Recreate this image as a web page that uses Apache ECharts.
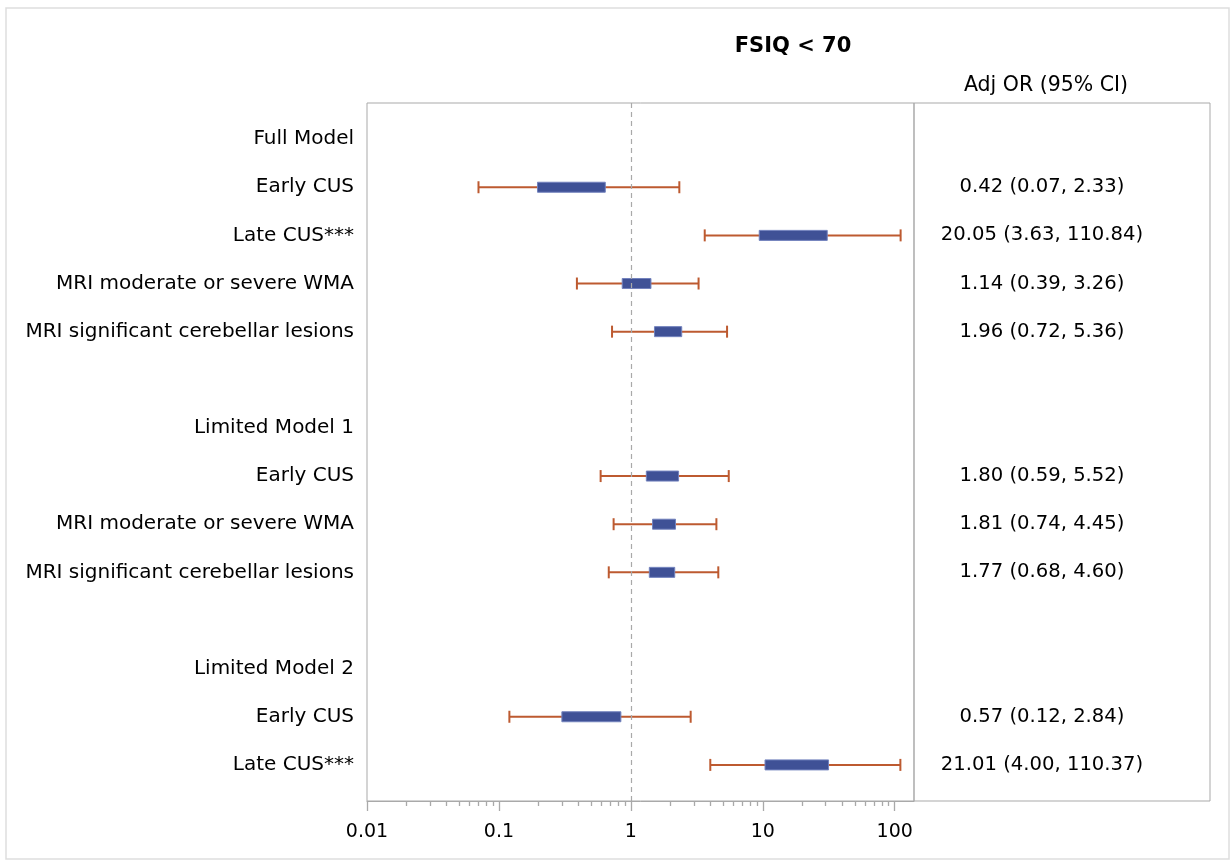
<!DOCTYPE html>
<html>
<head>
<meta charset="utf-8">
<title>FSIQ &lt; 70</title>
<script src="https://cdn.jsdelivr.net/npm/echarts@6/dist/echarts.min.js"></script>
<style>
  html, body { margin: 0; padding: 0; background: #fff; }
  #chart { width: 1232px; height: 861px; }
</style>
</head>
<body>
<div id="chart"></div>
<script>
// rows, top to bottom (blank rows are spacers)
var rowLabels = ['Full Model', 'Early CUS', 'Late CUS***', 'MRI moderate or severe WMA', 'MRI significant cerebellar lesions', '',
  'Limited Model 1', 'Early CUS', 'MRI moderate or severe WMA', 'MRI significant cerebellar lesions', '',
  'Limited Model 2', 'Early CUS', 'Late CUS***'];
var orText = ['', '0.42 (0.07, 2.33)', '20.05 (3.63, 110.84)', '1.14 (0.39, 3.26)', '1.96 (0.72, 5.36)', '',
  '', '1.80 (0.59, 5.52)', '1.81 (0.74, 4.45)', '1.77 (0.68, 4.60)', '',
  '', '0.57 (0.12, 2.84)', '21.01 (4.00, 110.37)'];
// 95% CI whiskers
var ciLow  = [null, 0.07, 3.63, 0.39, 0.72, null, null, 0.59, 0.74, 0.68, null, null, 0.12, 4.00];
var ciHigh = [null, 2.33, 110.84, 3.26, 5.36, null, null, 5.52, 4.45, 4.60, null, null, 2.84, 110.37];
// inner boxes
var boxLow  = [null, 0.196, 9.4, 0.86, 1.51, null, null, 1.31, 1.46, 1.38, null, null, 0.30, 10.4];
var boxHigh = [null, 0.64, 30.8, 1.42, 2.43, null, null, 2.30, 2.18, 2.15, null, null, 0.84, 31.5];

var xTicks = [0.01, 0.1, 1, 10, 100];
var xTickLabels = ['0.01', '0.1', '1', '10', '100'];

var minorTicks = [];
for (var d = 0; d < 4; d++) {
  for (var k = 2; k <= 9; k++) minorTicks.push(k * xTicks[d]);
}

var rowIdx = [], textIdx = [];
rowLabels.forEach(function (s, i) { if (s) rowIdx.push(i); });
orText.forEach(function (s, i) { if (s) textIdx.push(i); });

var plotData = [];
for (var i = 0; i < rowLabels.length; i++) {
  if (ciLow[i] != null) plotData.push([i, ciLow[i], boxLow[i], boxHigh[i], ciHigh[i]]);
}

var font = '"DejaVu Sans", "Noto Sans", sans-serif';
var frameColor = '#a9a9a9';
var whiskerColor = '#bd5a30';
var boxColor = '#3f5196';

var plotBox = { left: 367, right: 318, top: 103, bottom: 60 };

var chart = echarts.init(document.getElementById('chart'));

chart.setOption({
  backgroundColor: '#fff',
  textStyle: { fontFamily: font },
  animation: false,
  title: [
    { text: 'FSIQ < 70', left: 788, top: 31, textAlign: 'center',
      textStyle: { fontSize: 21, fontWeight: 'bold', color: '#000', fontFamily: font } },
    { text: 'Adj OR (95% CI)', left: 1041, top: 70, textAlign: 'center',
      textStyle: { fontSize: 20.5, fontWeight: 'normal', color: '#000', fontFamily: font } }
  ],
  graphic: [{
    type: 'rect', shape: { x: 6, y: 8, width: 1223, height: 851 },
    style: { fill: 'none', stroke: '#dedede', lineWidth: 1.5 }, silent: true, z: -10
  }],
  grid: [
    Object.assign({ show: true, borderColor: frameColor, borderWidth: 1, backgroundColor: 'transparent' }, plotBox),
    { left: 914, right: 22, top: 103, bottom: 60, show: true, borderColor: frameColor, borderWidth: 1, backgroundColor: 'transparent' },
    Object.assign({ show: false }, plotBox)
  ],
  xAxis: [
    { type: 'log', logBase: 10, gridIndex: 0, min: 0.01, max: 140, position: 'bottom',
      axisLine: { show: true, onZero: false, lineStyle: { color: frameColor } },
      axisTick: { show: true, length: 10, customValues: xTicks, lineStyle: { color: frameColor, width: 1.3 } },
      axisLabel: { show: true, customValues: xTicks, margin: 22, fontSize: 19, color: '#000', fontFamily: font,
        formatter: function (v) { return xTickLabels[Math.round(Math.log10(v)) + 2]; } },
      splitLine: { show: false }, minorTick: { show: false } },
    { type: 'value', gridIndex: 1, min: 0, max: 1, show: false },
    // minor ticks on an overlaid invisible grid
    { type: 'log', logBase: 10, gridIndex: 2, min: 0.01, max: 140, position: 'bottom',
      axisLine: { show: false, onZero: false },
      axisTick: { show: true, length: 5, customValues: minorTicks, lineStyle: { color: frameColor, width: 1.3 } },
      axisLabel: { show: false }, splitLine: { show: false } }
  ],
  yAxis: [
    { type: 'value', gridIndex: 0, inverse: true, min: -0.75, max: 13.75,
      axisLine: { show: false }, axisTick: { show: false }, splitLine: { show: false },
      axisLabel: { show: true, customValues: rowIdx, margin: 13, fontSize: 20, color: '#000', fontFamily: font,
        formatter: function (v) { return rowLabels[Math.round(v)]; } } },
    { type: 'value', gridIndex: 1, inverse: true, min: -0.75, max: 13.75, position: 'left',
      axisLine: { show: false }, axisTick: { show: false }, splitLine: { show: false },
      axisLabel: { show: true, customValues: textIdx, margin: -128, align: 'center', fontSize: 19.6, color: '#000', fontFamily: font,
        formatter: function (v) { return orText[Math.round(v)]; } } },
    { type: 'value', gridIndex: 2, min: 0, max: 1, show: false }
  ],
  series: [{
    type: 'custom',
    xAxisIndex: 0,
    yAxisIndex: 0,
    data: plotData,
    encode: { x: [1, 2, 3, 4], y: 0 },
    renderItem: function (params, api) {
      var y = api.value(0);
      var pLo = api.coord([api.value(1), y]);
      var pB0 = api.coord([api.value(2), y]);
      var pB1 = api.coord([api.value(3), y]);
      var pHi = api.coord([api.value(4), y]);
      var cap = 6, bh = 5;
      var ls = { stroke: whiskerColor, lineWidth: 2 };
      return {
        type: 'group',
        children: [
          { type: 'line', shape: { x1: pLo[0], y1: pLo[1], x2: pHi[0], y2: pHi[1] }, style: ls },
          { type: 'line', shape: { x1: pLo[0], y1: pLo[1] - cap, x2: pLo[0], y2: pLo[1] + cap }, style: ls },
          { type: 'line', shape: { x1: pHi[0], y1: pHi[1] - cap, x2: pHi[0], y2: pHi[1] + cap }, style: ls },
          { type: 'rect', shape: { x: pB0[0], y: pB0[1] - bh, width: pB1[0] - pB0[0], height: bh * 2 },
            style: { fill: boxColor, stroke: '#7282bd', lineWidth: 1 } }
        ]
      };
    },
    markLine: {
      silent: true,
      symbol: 'none',
      label: { show: false },
      lineStyle: { color: '#a9a9a9', type: [5, 4], width: 1.2 },
      data: [{ xAxis: 1 }]
    },
    z: 3
  }]
});
</script>
</body>
</html>
